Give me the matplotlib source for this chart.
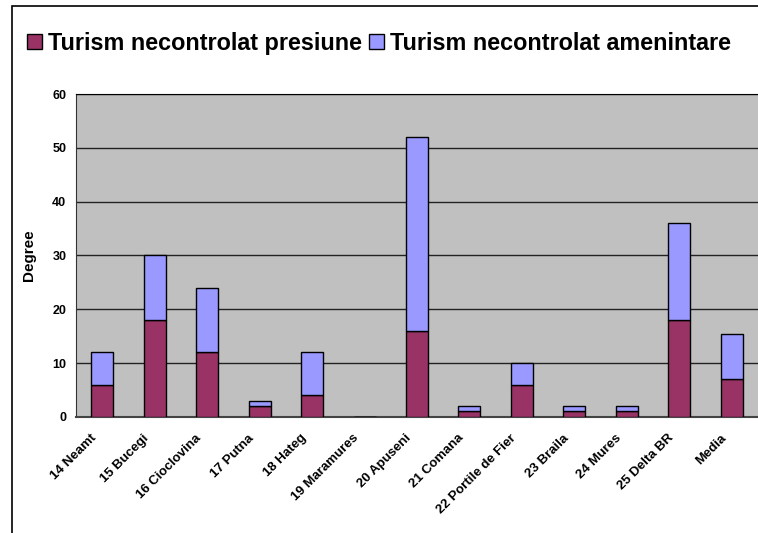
import matplotlib
matplotlib.use('Agg')
import matplotlib.pyplot as plt
import matplotlib.transforms as mtransforms
from matplotlib.patches import Rectangle
import numpy as np

plt.rcParams['font.family'] = ['Liberation Sans', 'DejaVu Sans']

# Data
areas = ['14 Neamt', '15 Bucegi', '16 Cioclovina', '17 Putna', '18 Hateg',
         '19 Maramures', '20 Apuseni', '21 Comana', '22 Portile de Fier',
         '23 Braila', '24 Mures', '25 Delta BR', 'Media']
presiune = [6, 18, 12, 2, 4, 0, 16, 1, 6, 1, 1, 18, 7.08]
amenintare = [6, 12, 12, 1, 8, 0, 36, 1, 4, 1, 1, 18, 8.33]

fig = plt.figure(figsize=(7.58, 5.33), dpi=100)
ax = fig.add_axes([0.1003, 0.218, 0.8997, 0.6056])

# chart frame (only left/top visible in original)
fig.patches.append(Rectangle((12 / 758, -0.1), 1.2, 1 - 6 / 533 + 0.1,
                             transform=fig.transFigure, fill=False,
                             edgecolor='black', linewidth=1.2))

x = np.arange(len(areas))
w = 0.42
ax.set_facecolor('#C0C0C0')
ax.bar(x, presiune, w, color='#993366', edgecolor='black', linewidth=1,
       label='Turism necontrolat presiune', zorder=3)
ax.bar(x, amenintare, w, bottom=presiune, color='#9999FF', edgecolor='black',
       linewidth=1, label='Turism necontrolat amenintare', zorder=3)

ax.set_xlim(-0.5, len(areas) - 0.5)
ax.set_ylim(0, 60)
ax.set_yticks(range(0, 61, 10))
ax.yaxis.grid(True, color='#222222', linewidth=1, zorder=1)
ax.set_axisbelow(True)

# category labels end a little left of the bar centre, like Excel does
ax.set_xticks(x)
ax.set_xticklabels([])
lab_tr = ax.get_xaxis_transform() + mtransforms.ScaledTranslation(
    -8.5 / 72, -11 / 72, fig.dpi_scale_trans)
for xi, name in zip(x, areas):
    ax.text(xi, 0, name, transform=lab_tr, rotation=45, ha='right', va='top',
            rotation_mode='anchor', fontsize=9.5, fontweight='bold')
for lab in ax.get_yticklabels():
    lab.set_fontsize(9)
    lab.set_fontweight('bold')
ax.tick_params(axis='x', length=0)
ax.tick_params(axis='y', length=0, pad=7)

ax.set_ylabel('Degree', fontsize=11, fontweight='bold', labelpad=12)

ax.spines['right'].set_visible(False)
ax.spines['top'].set_color('black')
ax.spines['left'].set_color('#333333')
ax.spines['bottom'].set_color('#444444')
ax.spines['bottom'].set_linewidth(1.5)

fig.legend(loc='center left', bbox_to_anchor=(27 / 758, 1 - 43 / 533), ncol=2,
           frameon=False, prop={'size': 16.8, 'weight': 'bold'},
           handlelength=0.64, handleheight=0.64, handletextpad=0.26,
           columnspacing=0.3, borderaxespad=0, borderpad=0)

fig.savefig('out.png', dpi=100)
